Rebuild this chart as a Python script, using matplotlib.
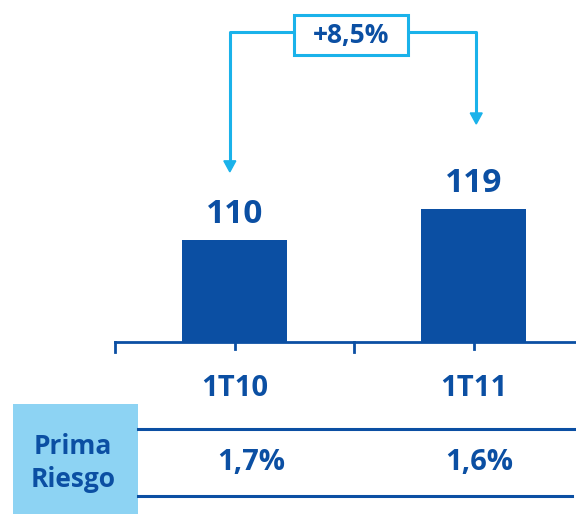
import matplotlib.pyplot as plt
from matplotlib.patches import Rectangle

plt.rcParams["font.family"] = ["Open Sans", "DejaVu Sans"]

DARK = "#0b4fa3"
CYAN = "#1ab2ea"
LIGHT = "#8dd3f3"

categories = ["1T10", "1T11"]
values = [110, 119]
value_labels = ["110", "119"]
growth_label = "+8,5%"
row_label = "Prima\nRiesgo"
row_values = ["1,7%", "1,6%"]

W, H = 576, 514
fig = plt.figure(figsize=(W / 100, H / 100), dpi=100)
fig.patch.set_facecolor("white")

# pixel overlay for the table part
ov = fig.add_axes([0, 0, 1, 1])
ov.set_xlim(0, W)
ov.set_ylim(H, 0)
ov.axis("off")

# main bar axes: bottom at y=342px, left at x=115px
y0, scale = 80.4, 3.444
ax = fig.add_axes([115 / W, (H - 342) / H, (W - 115) / W, 342 / H])
ax.set_xlim(-0.5, 1.427)
ax.set_ylim(y0, y0 + 342 / scale)
ax.patch.set_alpha(0)
ax.axis("off")

x = list(range(len(categories)))
ax.bar(x, values, width=0.44, bottom=0, color=DARK, zorder=2)
ax.axhline(y0, color=DARK, linewidth=2.0, zorder=3, clip_on=False)
for xt in [-0.5, 0.5, 1.5]:
    ax.plot([xt, xt], [y0, y0 - 10 / scale], color=DARK, linewidth=2.0, clip_on=False)
for xt in x:
    ax.plot([xt, xt], [y0, y0 - 7 / scale], color=DARK, linewidth=2.0, clip_on=False)

for xi, v, lab in zip(x, values, value_labels):
    ax.text(xi, v + 7.5, lab, ha="center", va="center", fontsize=24,
            fontweight="bold", color=DARK)

for xi, cat in zip(x, categories):
    ax.text(xi, y0 - 46 / scale, cat, ha="center", va="center", fontsize=21,
            fontweight="bold", color=DARK, clip_on=False)

# growth bracket
top = 170.3
left_tip, right_tip = 129.8, 143.7
lw = 2.2
ax.plot([-0.02, -0.02, 0.243], [left_tip + 3, top, top], color=CYAN, lw=lw,
        clip_on=False, solid_capstyle="butt")
ax.plot([0.724, 1.01, 1.01], [top, top, right_tip + 3], color=CYAN, lw=lw,
        clip_on=False, solid_capstyle="butt")
for xa, tip in [(-0.02, left_tip), (1.01, right_tip)]:
    ax.fill([xa - 0.025, xa + 0.025, xa], [tip + 3.2, tip + 3.2, tip],
            color=CYAN, clip_on=False, zorder=3)
ov.add_patch(Rectangle((294, 15), 114, 40, facecolor="white", edgecolor=CYAN,
                       linewidth=lw, zorder=3))
ov.text(351, 36, growth_label, ha="center", va="center", fontsize=19,
        fontweight="bold", color=DARK, zorder=4)

# table row
ov.add_patch(Rectangle((13, 404), 125, 112, facecolor=LIGHT, edgecolor="none"))
ov.text(73, 463, row_label, ha="center", va="center", fontsize=19,
        fontweight="bold", color=DARK, linespacing=1.3)
ov.plot([138, W], [429, 429], color=DARK, lw=2.2)
ov.plot([138, W - 4], [496, 496], color=DARK, lw=2.2)
for xp, txt in zip([251, 479], row_values):
    ov.text(xp, 463, txt, ha="center", va="center", fontsize=21,
            fontweight="bold", color=DARK)

fig.savefig("out.png", dpi=100, facecolor="white")
